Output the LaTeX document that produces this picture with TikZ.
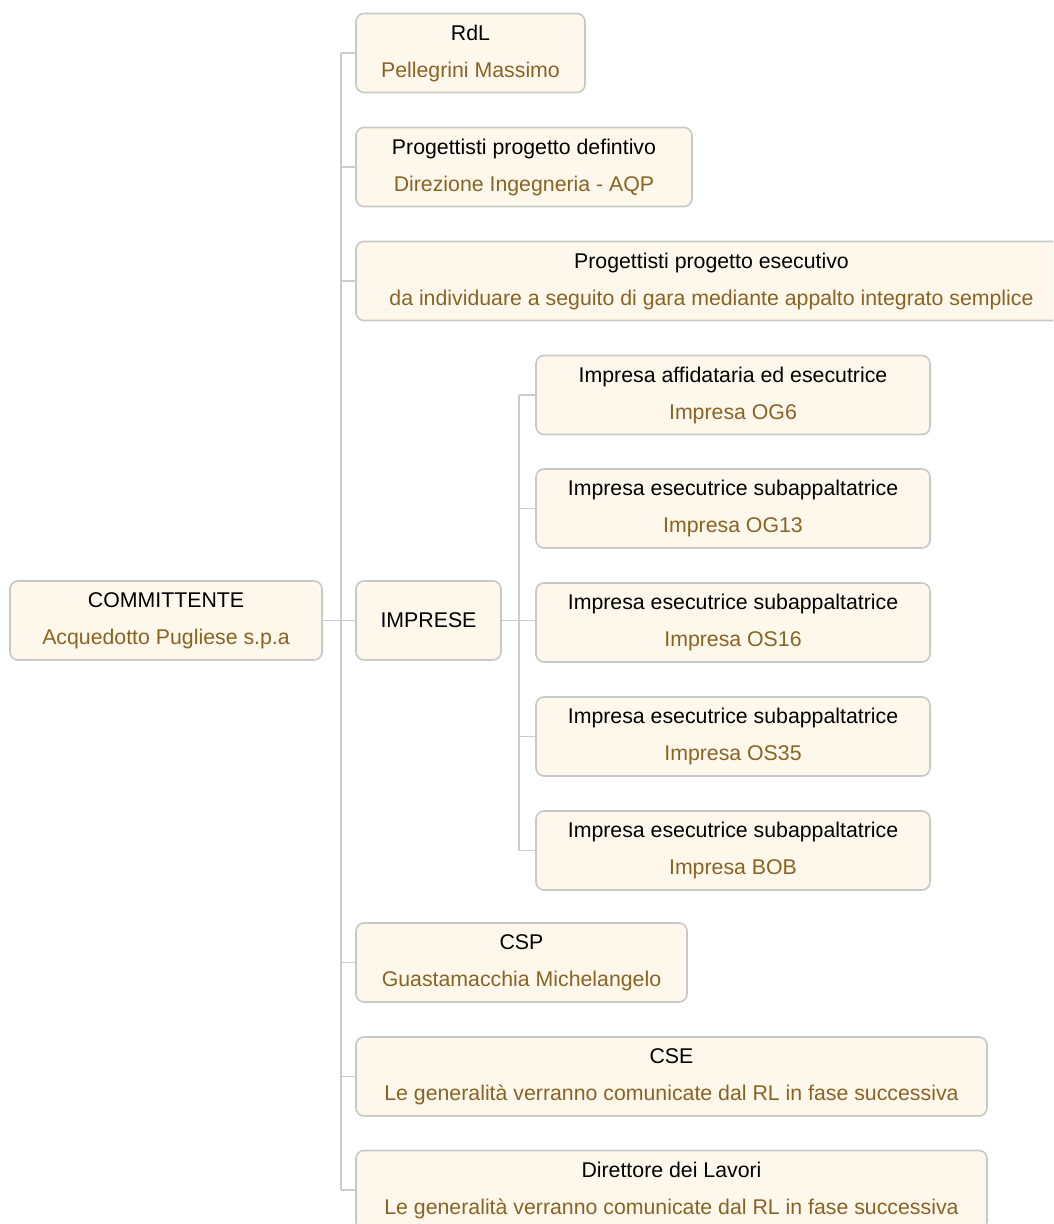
\documentclass[tikz,border=0pt]{standalone}
\usepackage{fontspec}
\setmainfont{Liberation Sans}
\definecolor{boxfill}{HTML}{FEF8EC}
\definecolor{boxline}{HTML}{C8C8C8}
\definecolor{linkline}{HTML}{CCCCCC}
\definecolor{nametext}{HTML}{8A6322}
\tikzset{
	unit/.style={draw=boxline, fill=boxfill, line width=1.6pt, rounded corners=8pt,
		minimum height=79pt, inner sep=0pt, align=center,
		font=\fontsize{21.3}{37}\selectfont},
	link/.style={draw=linkline, line width=1.5pt}
}
\begin{document}
\begin{tikzpicture}[x=1pt, y=-1pt]
		\useasboundingbox (0, 0) rectangle (1053, 1224);
		\clip (0, 0) rectangle (1053, 1224);
		
		\node[unit, minimum width=312pt] (comm) at (166, 620.5) {COMMITTENTE\\\textcolor{nametext}{Acquedotto Pugliese s.p.a}};
		
		\node[unit, minimum width=229pt] (rdl) at (470.5, 53) {RdL\\\textcolor{nametext}{Pellegrini Massimo}};
		\node[unit, minimum width=336pt] (pdef) at (524, 167) {Progettisti progetto defintivo\\\textcolor{nametext}{Direzione Ingegneria - AQP}};
		\node[unit, minimum width=711pt] (pese) at (711.5, 281) {Progettisti progetto esecutivo\\\textcolor{nametext}{da individuare a seguito di gara mediante appalto integrato semplice}};
		\node[unit, minimum width=145pt] (impr) at (428.5, 620.5) {IMPRESE};
		\node[unit, minimum width=331pt] (csp) at (521.5, 962.5) {CSP\\\textcolor{nametext}{Guastamacchia Michelangelo}};
		\node[unit, minimum width=631pt] (cse) at (671.5, 1076.5) {CSE\\\textcolor{nametext}{Le generalità verranno comunicate dal RL in fase successiva}};
		\node[unit, minimum width=631pt] (dl) at (671.5, 1190) {Direttore dei Lavori\\\textcolor{nametext}{Le generalità verranno comunicate dal RL in fase successiva}};
		
		\node[unit, minimum width=394pt] (og6) at (733, 395) {Impresa affidataria ed esecutrice\\\textcolor{nametext}{Impresa OG6}};
		\node[unit, minimum width=394pt] (og13) at (733, 508.5) {Impresa esecutrice subappaltatrice\\\textcolor{nametext}{Impresa OG13}};
		\node[unit, minimum width=394pt] (os16) at (733, 622.5) {Impresa esecutrice subappaltatrice\\\textcolor{nametext}{Impresa OS16}};
		\node[unit, minimum width=394pt] (os35) at (733, 736.5) {Impresa esecutrice subappaltatrice\\\textcolor{nametext}{Impresa OS35}};
		\node[unit, minimum width=394pt] (bob) at (733, 850.5) {Impresa esecutrice subappaltatrice\\\textcolor{nametext}{Impresa BOB}};
		
		\coordinate (spine) at (341, 0);
		\coordinate (subspine) at (519, 0);
		
		\draw[link] (comm.east) -- (impr.west);
		\draw[link] (spine |- rdl.west) -- (spine |- dl.west);
		\foreach \n in {rdl, pdef, pese, csp, cse, dl}
			\draw[link] (spine |- \n.west) -- (\n.west);
		
		\draw[link] (impr.east) -- (subspine |- impr.east) -- (os16.west |- impr.east);
		\draw[link] (subspine |- og6.west) -- (subspine |- bob.west);
		\foreach \n in {og6, og13, os35, bob}
			\draw[link] (subspine |- \n.west) -- (\n.west);
	\end{tikzpicture}
\end{document}
